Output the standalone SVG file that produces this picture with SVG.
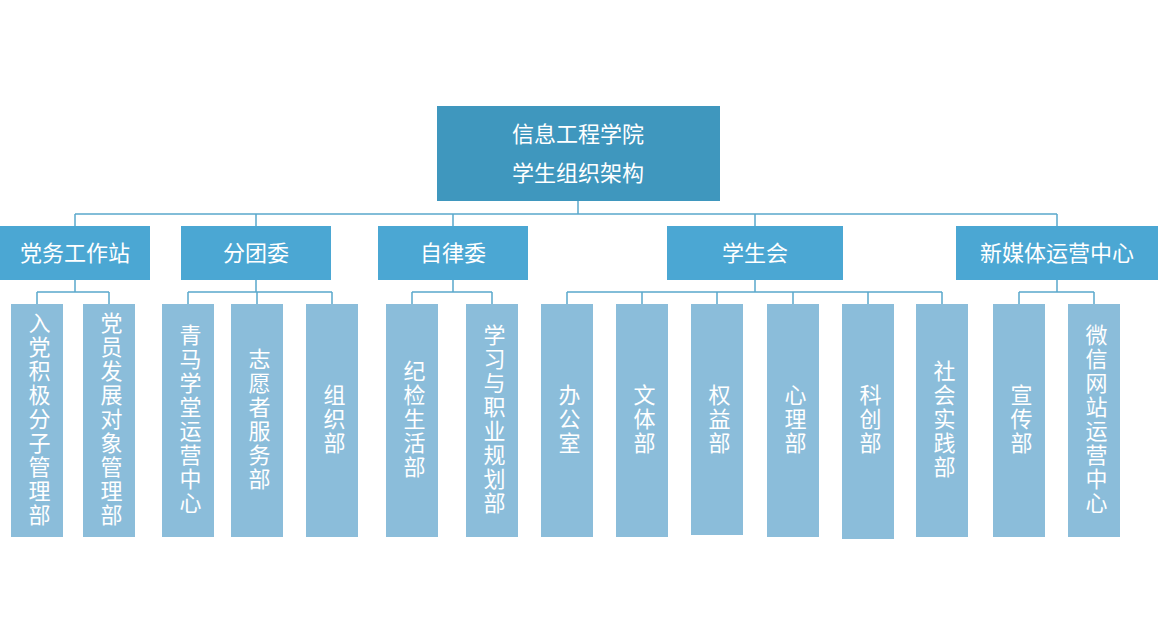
<svg xmlns="http://www.w3.org/2000/svg" width="1158" height="644" viewBox="0 0 1158 644">
<style>
.l1{fill:#3f97be}
.l2{fill:#4ba7d3}
.l3{fill:#8bbdda}
.t{fill:#fff;font-family:"Liberation Serif","Noto Sans CJK SC",serif;font-size:22px;text-anchor:middle}
.v{fill:#fff;font-family:"Liberation Serif","Noto Sans CJK SC",serif;font-size:22px;text-anchor:middle;writing-mode:vertical-rl;letter-spacing:2px}
.c{fill:none;stroke:#5aa8cc;stroke-width:1.5}
</style>
<rect width="1158" height="644" fill="#fff"/>
<g id="connectors" class="c">
<path d="M578 201V214M75 214H1057M75 214V226M256 214V226M453 214V226M755 214V226M1057 214V226"/>
<path d="M75 280V292M37 292H109M37 292V304M109 292V304"/>
<path d="M256 280V292M188 292H332M188 292V304M257 292V304M332 292V304"/>
<path d="M453 280V292M412 292H492M412 292V304M492 292V304"/>
<path d="M755 280V292M567 292H942M567 292V304M642 292V304M717 292V304M793 292V304M868 292V304M942 292V304"/>
<path d="M1057 280V292M1019 292H1094M1019 292V304M1094 292V304"/>
</g>
<g id="root"><rect class="l1" x="437" y="106" width="283" height="95"/><text class="t" x="578" y="142">信息工程学院</text><text class="t" x="578" y="181">学生组织架构</text></g>
<g id="n-dw"><rect class="l2" x="0" y="226" width="150" height="54"/><text class="t" x="75" y="261">党务工作站</text></g>
<g id="n-ftw"><rect class="l2" x="181" y="226" width="150" height="54"/><text class="t" x="256" y="261">分团委</text></g>
<g id="n-zlw"><rect class="l2" x="378" y="226" width="150" height="54"/><text class="t" x="453" y="261">自律委</text></g>
<g id="n-xsh"><rect class="l2" x="667" y="226" width="176" height="54"/><text class="t" x="755" y="261">学生会</text></g>
<g id="n-xmt"><rect class="l2" x="956" y="226" width="202" height="54"/><text class="t" x="1057" y="261">新媒体运营中心</text></g>
<g id="d1"><rect class="l3" x="11" y="304" width="52" height="233"/><text class="v" x="37" y="420">入党积极分子管理部</text></g>
<g id="d2"><rect class="l3" x="83" y="304" width="52" height="233"/><text class="v" x="109" y="420">党员发展对象管理部</text></g>
<g id="d3"><rect class="l3" x="162" y="304" width="52" height="233"/><text class="v" x="188" y="420">青马学堂运营中心</text></g>
<g id="d4"><rect class="l3" x="231" y="304" width="52" height="233"/><text class="v" x="257" y="420">志愿者服务部</text></g>
<g id="d5"><rect class="l3" x="306" y="304" width="52" height="233"/><text class="v" x="332" y="420">组织部</text></g>
<g id="d6"><rect class="l3" x="386" y="304" width="52" height="233"/><text class="v" x="412" y="420">纪检生活部</text></g>
<g id="d7"><rect class="l3" x="466" y="304" width="52" height="233"/><text class="v" x="492" y="420">学习与职业规划部</text></g>
<g id="d8"><rect class="l3" x="541" y="304" width="52" height="233"/><text class="v" x="567" y="420">办公室</text></g>
<g id="d9"><rect class="l3" x="616" y="304" width="52" height="233"/><text class="v" x="642" y="420">文体部</text></g>
<g id="d10"><rect class="l3" x="691" y="304" width="52" height="231"/><text class="v" x="717" y="420">权益部</text></g>
<g id="d11"><rect class="l3" x="767" y="304" width="52" height="233"/><text class="v" x="793" y="420">心理部</text></g>
<g id="d12"><rect class="l3" x="842" y="304" width="52" height="235"/><text class="v" x="868" y="420">科创部</text></g>
<g id="d13"><rect class="l3" x="916" y="304" width="52" height="233"/><text class="v" x="942" y="420">社会实践部</text></g>
<g id="d14"><rect class="l3" x="993" y="304" width="52" height="233"/><text class="v" x="1019" y="420">宣传部</text></g>
<g id="d15"><rect class="l3" x="1068" y="304" width="52" height="233"/><text class="v" x="1094" y="420">微信网站运营中心</text></g>
</svg>
